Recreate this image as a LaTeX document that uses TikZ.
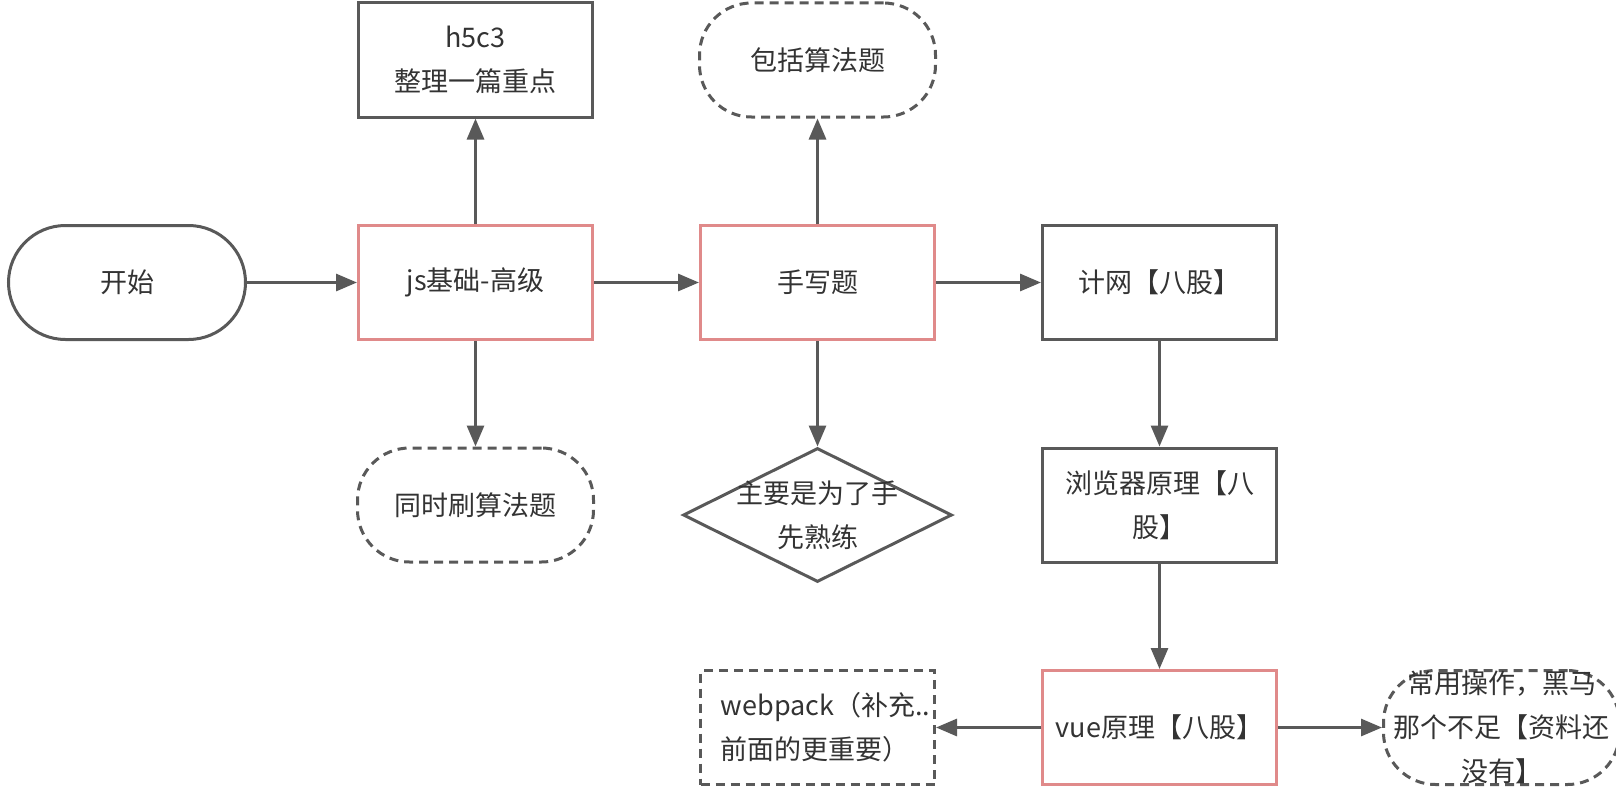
\documentclass[tikz,border=0pt]{standalone}
\usepackage{fontspec}
\setmainfont{Noto Sans CJK SC}
\usetikzlibrary{positioning}
\usetikzlibrary{shapes.geometric,arrows.meta}
\definecolor{linegray}{HTML}{595959}
\definecolor{pinkline}{HTML}{E08A8A}
\definecolor{textgray}{HTML}{333333}

\begin{document}
\begin{tikzpicture}[x=1pt,y=-1pt,
	every node/.style={font=\fontsize{27}{44}\selectfont,text=textgray,line width=3pt,inner sep=0pt},
	box/.style={draw=linegray,rectangle,minimum width=234pt,minimum height=114pt,align=center},
	pinkbox/.style={box,draw=pinkline},
	startbox/.style={box,minimum width=237pt,rounded corners=57pt},
	dashround/.style={box,minimum width=236pt,rounded corners=52pt,dash pattern=on 9pt off 6pt},
	dashbox/.style={box,dash pattern=on 9pt off 6pt},
	choice/.style={draw=linegray,diamond,minimum width=269pt,minimum height=134pt},
	flow/.style={draw=linegray,line width=3pt,-{Triangle[length=21pt,width=17pt]}}]
	\useasboundingbox (0,0) rectangle (1616,800);
	\node[startbox] (start) at (127,282.5) {开始};
	\node[pinkbox,right=110pt of start] (js) {js基础-高级};
	\node[pinkbox,right=105pt of js] (write) {手写题};
	\node[box,right=105pt of write] (net) {计网【八股】};
	\node[box,above=105.5pt of js] (css) {h5c3\\整理一篇重点};
	\node[dashround,below=105.5pt of js] (algo) {同时刷算法题};
	\node[dashround,above=105.5pt of write] (incl) {包括算法题};
	\node[choice,below=105.5pt of write,
		label={[align=center]center:主要是为了手\\先熟练}] (aim) {};
	\node[box,below=105.5pt of net] (browser) {浏览器原理【八\\股】};
	\node[pinkbox,below=105.5pt of browser] (vue) {vue原理【八股】};
	\node[dashbox,left=105pt of vue,
		label={[align=left,xshift=8pt]center:webpack（补充..\\前面的更重要）}] (pack) {};
	\node[dashround,right=104pt of vue,
		label={[align=center]center:常用操作，黑马\\那个不足【资料还\\没有】}] (usage) {};
	% connectors
	\draw[flow] (start) -- (js);
	\draw[flow] (js) -- (write);
	\draw[flow] (write) -- (net);
	\draw[flow] (js) -- (css);
	\draw[flow] (js) -- (algo);
	\draw[flow] (write) -- (incl);
	\draw[flow] (write) -- (aim);
	\draw[flow] (net) -- (browser);
	\draw[flow] (browser) -- (vue);
	\draw[flow] (vue) -- (pack);
	\draw[flow] (vue) -- (usage);
\end{tikzpicture}
\end{document}
